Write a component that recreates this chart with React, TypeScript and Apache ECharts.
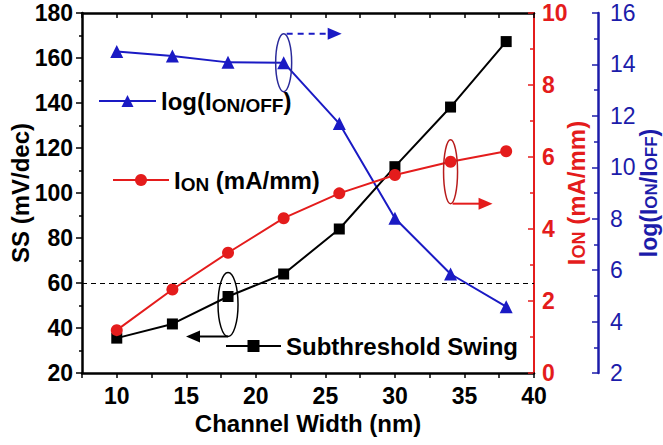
import React, { useEffect, useRef } from 'react';
import * as echarts from 'echarts';

// ---- data ----
const channelWidth = [10, 14, 18, 22, 26, 30, 34, 38];
const ssValues = [35.5, 41.8, 54, 64, 84, 111.7, 138.2, 167.3];
const ionValues = [1.19, 2.32, 3.34, 4.3, 4.99, 5.5, 5.87, 6.16];
const logOnOffValues = [14.5, 14.33, 14.08, 14.07, 11.7, 8.02, 5.85, 4.58];
const xTickLabels = [10, 15, 20, 25, 30, 35, 40];
const ssReference = 60;

const SS_NAME = 'Subthreshold Swing';
const ION_NAME = 'ION (mA/mm)';
const LOG_NAME = 'log(ION/OFF)';

const FONT = '"Liberation Sans", Arial, Helvetica, sans-serif';
const RED = '#e41c1c';
const BLUE = '#1a1ac4';
const BLUE_AXIS = '#1c1caa';

const richFor = (color: string, weight: any, size: number, sub: number, lh: number) => ({
  a: { fontSize: size, fontWeight: weight, color, fontFamily: FONT, lineHeight: lh },
  b: { fontSize: sub, fontWeight: weight, color, fontFamily: FONT, lineHeight: sub, verticalAlign: 'bottom' },
});

export default function App() {
  const ref = useRef<HTMLDivElement>(null);
  useEffect(() => {
    if (!ref.current) return;
    const chart = echarts.init(ref.current, undefined, { renderer: 'svg' });
    const pairs = (vals: number[]) => channelWidth.map((x, i) => [x, vals[i]]);
    const legendCommon = {
      padding: 0,
      selectedMode: false,
      orient: 'horizontal',
      itemHeight: 15,
      textStyle: { rich: richFor('#000', 'bold', 24, 19, 28), fontSize: 24, fontWeight: 'bold', color: '#000', fontFamily: FONT },
      formatter: (name: string) => {
        if (name === LOG_NAME) return '{a|log(I}{b|ON/OFF}{a|)}';
        if (name === ION_NAME) return '{a|I}{b|ON}{a| (mA/mm)}';
        return '{a|' + name + '}';
      },
    };
    const tickLabel = { fontSize: 23, fontWeight: 'bold', fontFamily: FONT, color: '#000' };
    chart.setOption({
      animation: false,
      backgroundColor: '#fff',
      grid: { left: 82, right: 129, top: 13, bottom: 72, containLabel: false, outerBoundsMode: 'none' },
      legend: [
        { ...legendCommon, data: [LOG_NAME], left: 98, top: 89, itemWidth: 57 },
        { ...legendCommon, data: [ION_NAME], left: 112, top: 168, itemWidth: 56 },
        { ...legendCommon, data: [SS_NAME], left: 225, top: 334, itemWidth: 55 },
      ],
      xAxis: [
        {
          type: 'value', position: 'bottom', min: 7.5, max: 40, interval: 2.5,
          axisLine: { lineStyle: { color: '#000', width: 2.5 } },
          axisTick: { inside: false, length: 5, lineStyle: { color: '#000', width: 1.5 } },
          axisLabel: {
            ...tickLabel, margin: 11,
            formatter: (v: number) => (xTickLabels.includes(v) ? String(v) : ''),
          },
          splitLine: { show: false },
          name: 'Channel Width (nm)', nameLocation: 'middle', nameGap: 38,
          nameTextStyle: { fontSize: 24, fontWeight: 'bold', fontFamily: FONT, color: '#000' },
        },
        {
          type: 'value', position: 'top', min: 7.5, max: 40, interval: 2.5,
          axisLine: { lineStyle: { color: '#000', width: 2.5 } },
          axisTick: { inside: true, length: 5, lineStyle: { color: '#000', width: 1.5 } },
          axisLabel: { show: false },
          splitLine: { show: false },
        },
      ],
      yAxis: [
        {
          type: 'value', position: 'left', min: 20, max: 180, interval: 20,
          axisLine: { show: true, lineStyle: { color: '#000', width: 2.5 } },
          axisTick: { show: true, inside: false, length: 6, lineStyle: { color: '#000', width: 1.5 } },
          minorTick: { show: true, splitNumber: 2, length: 3, lineStyle: { color: '#000', width: 1.5 } },
          axisLabel: { ...tickLabel, margin: 9 },
          splitLine: { show: false },
          name: 'SS (mV/dec)', nameLocation: 'middle', nameGap: 50, nameMoveOverlap: false,
          nameTextStyle: { fontSize: 24, lineHeight: 24, fontWeight: 'bold', fontFamily: FONT, color: '#000' },
        },
        {
          type: 'value', position: 'right', min: 0, max: 10, interval: 2,
          axisLine: { show: true, lineStyle: { color: RED, width: 2 } },
          axisTick: { show: true, inside: true, length: 6, lineStyle: { color: RED, width: 1.5 } },
          minorTick: { show: true, splitNumber: 2, length: 4, lineStyle: { color: RED, width: 1.5 } },
          axisLabel: { ...tickLabel, color: RED, margin: 8 },
          splitLine: { show: false },
          name: '{a|I}{b|ON}{a| (mA/mm)}', nameLocation: 'middle', nameGap: 30, nameRotate: 90, nameMoveOverlap: false,
          nameTextStyle: { rich: richFor(RED, 'bold', 24, 18, 24) },
        },
        {
          type: 'value', position: 'right', offset: 64, min: 2, max: 16, interval: 2,
          axisLine: { show: true, lineStyle: { color: BLUE_AXIS, width: 2.5 } },
          axisTick: { show: true, inside: true, length: 6, lineStyle: { color: BLUE_AXIS, width: 1.5 } },
          minorTick: { show: true, splitNumber: 2, length: 4, lineStyle: { color: BLUE_AXIS, width: 1.5 } },
          axisLabel: { ...tickLabel, fontWeight: 'normal', color: BLUE_AXIS, margin: 12 },
          splitLine: { show: false },
          name: '{a|log(I}{b|ON}{a|/I}{b|OFF}{a|)}', nameLocation: 'middle', nameGap: 40, nameRotate: 90, nameMoveOverlap: false,
          nameTextStyle: { rich: richFor(BLUE_AXIS, 'bold', 23, 17, 22) },
        },
      ],
      series: [
        {
          name: SS_NAME, type: 'line', xAxisIndex: 0, yAxisIndex: 0, data: pairs(ssValues),
          symbol: 'rect', symbolSize: 11,
          lineStyle: { color: '#000', width: 2 }, itemStyle: { color: '#000' },
          markLine: {
            silent: true, symbol: ['none', 'none'], label: { show: false },
            lineStyle: { color: '#000', width: 1, type: [5, 4] },
            data: [{ yAxis: ssReference }],
          },
          z: 3,
        },
        {
          name: ION_NAME, type: 'line', xAxisIndex: 0, yAxisIndex: 1, data: pairs(ionValues),
          symbol: 'circle', symbolSize: 12,
          lineStyle: { color: RED, width: 2 }, itemStyle: { color: RED },
          z: 4,
        },
        {
          name: LOG_NAME, type: 'line', xAxisIndex: 0, yAxisIndex: 2, data: pairs(logOnOffValues),
          symbol: 'triangle', symbolSize: 13,
          lineStyle: { color: BLUE, width: 2 }, itemStyle: { color: BLUE },
          z: 2,
        },
      ],
    });

    // annotations (ellipses + arrows) anchored to data points
    const px = (yi: number, x: number, y: number) =>
      chart.convertToPixel({ xAxisIndex: 0, yAxisIndex: yi } as any, [x, y]) as number[];
    const [bx, by] = px(2, channelWidth[3], logOnOffValues[3]);
    const [rx, ry0] = px(1, channelWidth[6], ionValues[6]);
    const [kx, ky0] = px(0, channelWidth[2], ssValues[2]);
    const ry = ry0 + 10;
    const ky = ky0 + 8;
    const bTop = by - 29;
    const rBot = ry + 32;
    const kBot = ky + 32;
    const ELL_BLUE = '#2a2a9a';
    const ELL_RED = '#b81c1c';
    chart.setOption({
      graphic: [
        { type: 'ellipse', shape: { cx: bx, cy: by, rx: 8, ry: 29 }, style: { fill: 'none', stroke: ELL_BLUE, lineWidth: 1.5 }, z: 10 },
        { type: 'line', shape: { x1: bx + 3, y1: bTop, x2: bx + 46, y2: bTop }, style: { stroke: BLUE, lineWidth: 2, lineDash: [6, 5] }, z: 10 },
        { type: 'polygon', shape: { points: [[bx + 44, bTop - 6], [bx + 58, bTop], [bx + 44, bTop + 6]] }, style: { fill: BLUE }, z: 10 },

        { type: 'ellipse', shape: { cx: rx, cy: ry, rx: 7, ry: 32 }, style: { fill: 'none', stroke: ELL_RED, lineWidth: 1.5 }, z: 10 },
        { type: 'line', shape: { x1: rx + 2, y1: rBot, x2: rx + 30, y2: rBot }, style: { stroke: RED, lineWidth: 2 }, z: 10 },
        { type: 'polygon', shape: { points: [[rx + 28, rBot - 6], [rx + 42, rBot], [rx + 28, rBot + 6]] }, style: { fill: RED }, z: 10 },

        { type: 'ellipse', shape: { cx: kx, cy: ky, rx: 10, ry: 32 }, style: { fill: 'none', stroke: '#000', lineWidth: 1.5 }, z: 10 },
        { type: 'line', shape: { x1: kx, y1: kBot, x2: kx - 30, y2: kBot }, style: { stroke: '#000', lineWidth: 2 }, z: 10 },
        { type: 'polygon', shape: { points: [[kx - 28, kBot - 6], [kx - 42, kBot], [kx - 28, kBot + 6]] }, style: { fill: '#000' }, z: 10 },
      ],
    });

    return () => chart.dispose();
  }, []);
  return (
    <div
      ref={ref}
      style={{ position: 'fixed', left: 0, top: 0, width: 663, height: 445, background: '#fff' }}
    />
  );
}
